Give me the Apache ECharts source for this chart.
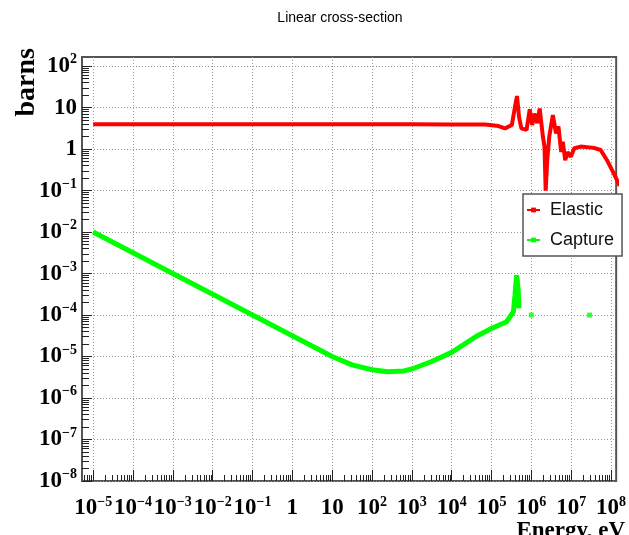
<!DOCTYPE html>
<html>
<head>
<meta charset="utf-8">
<title>Linear cross-section</title>
<script src="https://cdn.jsdelivr.net/npm/echarts@6/dist/echarts.min.js"></script>
<style>
  html, body { margin: 0; padding: 0; background: #fff; }
  #chart { width: 629px; height: 535px; }
</style>
</head>
<body>
<div id="chart"></div>
<script>
// Neutron elastic cross section: energy (eV) and value (barns)
const elasticEnergy = [1e-5, 1e3, 1e4, 6.9e4, 1.5e5, 2.19e5, 3.24e5, 3.89e5, 4.37e5, 4.9e5,
  5.62e5, 7.59e5, 9.12e5, 1.05e6, 1.2e6, 1.41e6, 1.62e6, 1.95e6, 2.14e6, 2.29e6,
  2.51e6, 2.82e6, 3.47e6, 4.17e6, 4.79e6, 5.62e6, 6.17e6, 7.08e6, 8.13e6, 9.77e6,
  1.2e7, 1.74e7, 3.72e7, 5.5e7, 7.94e7, 1.17e8, 1.66e8];
const elasticXs = [3.95, 3.95, 3.9, 3.9, 3.6, 3.16, 3.8, 10.5, 19, 6.0,
  3.16, 2.9, 9.1, 3.8, 7.2, 4.2, 9.5, 2.0, 1.15, 0.10,
  0.54, 2.0, 6.6, 2.4, 3.5, 0.85, 1.5, 0.54, 0.85, 0.65,
  1.05, 1.15, 1.07, 0.95, 0.54, 0.26, 0.13];

// Radiative capture cross section: energy (eV) and value (barns)
const captureEnergy = [1e-5, 1e1, 3.16e1, 1e2, 2.5e2, 6.3e2, 1e3, 3.16e3, 1e4, 4e4,
  1.02e5, 2.4e5, 3.55e5, 3.89e5, 4.27e5, 4.68e5, 4.9e5];
const captureXs = [1.0e-2, 1.0e-5, 6.3e-6, 4.8e-6, 4.3e-6, 4.5e-6, 5.0e-6, 7.6e-6, 1.26e-5, 3.0e-5,
  4.8e-5, 6.9e-5, 1.2e-4, 3.0e-4, 9.1e-4, 4.0e-4, 1.45e-4];
// Separate capture points above the resolved range
const captureDotEnergy = [1.0e6, 2.9e7];
const captureDotXs = [1.0e-4, 1.0e-4];

// Decade exponents used for labels, ticks and grid
const xDecades = [-5, -4, -3, -2, -1, 0, 1, 2, 3, 4, 5, 6, 7, 8];
const yDecades = [-8, -7, -6, -5, -4, -3, -2, -1, 0, 1, 2];

const lg = Math.log10;
const toPairs = (es, vs) => es.map((e, i) => [lg(e), lg(vs[i])]);

// log-spaced minor tick positions (2..9 x 10^n) inside a range of exponents
function minorTicks(lo, hi) {
  const out = [];
  for (let n = Math.floor(lo); n <= Math.ceil(hi); n++) {
    for (let k = 2; k <= 9; k++) {
      const v = n + lg(k);
      if (v > lo && v < hi) out.push(v);
    }
  }
  return out;
}

const X_MIN = -5.28, X_MAX = 8.13;
const Y_MIN = -8, Y_MAX = 2.22;

function powLabel(v) {
  const n = Math.round(v);
  if (Math.abs(v - n) > 1e-6) return '';
  if (n === 0) return '{b|1}';
  if (n === 1) return '{b|10}';
  return '{b|10}{s|' + (n < 0 ? '\u2212' + (-n) : String(n)) + '}';
}

const serif = "'Liberation Serif', 'DejaVu Serif', serif";
const sans = "'Liberation Sans', Arial, sans-serif";

const richLabel = {
  b: { fontFamily: serif, fontWeight: 'bold', fontSize: 23, color: '#000', lineHeight: 27 },
  s: { fontFamily: serif, fontWeight: 'bold', fontSize: 14, color: '#000', lineHeight: 14, verticalAlign: 'top' }
};

const chart = echarts.init(document.getElementById('chart'), null, { renderer: 'canvas' });

const grid = { left: 82, right: 6, top: 57, bottom: 54, show: true, borderColor: '#555', borderWidth: 2, backgroundColor: 'transparent', containLabel: false };

const dotted = { show: true, lineStyle: { color: '#999', type: [1, 2], width: 1 } };
const noLine = { show: false, onZero: false };

chart.setOption({
  animation: false,
  backgroundColor: '#fff',
  grid: grid,
  graphic: [
    { type: 'text', x: 340, y: 11, style: { text: 'Linear cross-section', font: '14px ' + sans, fill: '#000', align: 'center', verticalAlign: 'top' } },
    { type: 'text', x: 27, y: 48, rotation: Math.PI / 2, style: { text: 'barns', font: 'bold 28px ' + serif, fill: '#000', align: 'right', verticalAlign: 'middle' } },
    { type: 'text', x: 625, y: 520, style: { text: 'Energy, eV', font: 'bold 23px ' + serif, fill: '#000', align: 'right', verticalAlign: 'top' } }
  ],
  legend: {
    data: ['Elastic', 'Capture'],
    orient: 'vertical',
    left: 523,
    top: 194,
    padding: [7, 8, 7, 3],
    itemGap: 12,
    itemWidth: 13,
    itemHeight: 6,
    backgroundColor: '#fff',
    borderColor: '#555',
    borderWidth: 1.5,
    textStyle: { fontFamily: sans, fontSize: 18, color: '#111', padding: [0, 0, 0, 5] }
  },
  xAxis: [
    {
      type: 'value', min: X_MIN, max: X_MAX, splitNumber: 13,
      axisLine: noLine,
      axisTick: { show: true, inside: true, length: 11, customValues: xDecades, lineStyle: { color: '#222', width: 1 } },
      axisLabel: { show: true, margin: 14, showMinLabel: true, showMaxLabel: true, hideOverlap: false, customValues: xDecades, formatter: powLabel, rich: richLabel },
      splitLine: dotted
    },
    {
      type: 'value', min: X_MIN, max: X_MAX, gridIndex: 0, position: 'bottom',
      axisLine: noLine,
      axisTick: { show: true, inside: true, length: 6, customValues: minorTicks(X_MIN, X_MAX), lineStyle: { color: '#222', width: 1 } },
      axisLabel: { show: false },
      splitLine: { show: false }
    }
  ],
  yAxis: [
    {
      type: 'value', min: Y_MIN, max: Y_MAX, splitNumber: 10,
      axisLine: noLine,
      axisTick: { show: true, inside: true, length: 10, customValues: yDecades, lineStyle: { color: '#222', width: 1 } },
      axisLabel: { show: true, margin: 5, showMinLabel: true, showMaxLabel: true, customValues: yDecades, formatter: powLabel, rich: richLabel },
      splitLine: dotted
    },
    {
      type: 'value', min: Y_MIN, max: Y_MAX, gridIndex: 0, position: 'left',
      axisLine: noLine,
      axisTick: { show: true, inside: true, length: 7, customValues: minorTicks(Y_MIN, Y_MAX), lineStyle: { color: '#222', width: 1 } },
      axisLabel: { show: false },
      splitLine: { show: false }
    }
  ],
  series: [
    {
      name: 'Elastic', type: 'line', xAxisIndex: 0, yAxisIndex: 0,
      data: toPairs(elasticEnergy, elasticXs),
      symbol: 'rect', symbolSize: 5, showSymbol: false, clip: true,
      itemStyle: { color: '#ff0000' },
      lineStyle: { color: '#ff0000', width: 4 }
    },
    {
      name: 'Capture', type: 'line', xAxisIndex: 0, yAxisIndex: 0,
      data: toPairs(captureEnergy, captureXs),
      symbol: 'rect', symbolSize: 5, showSymbol: false, clip: true,
      itemStyle: { color: '#00ff00' },
      lineStyle: { color: '#00ff00', width: 5 }
    },
    {
      name: 'Capture', type: 'scatter', xAxisIndex: 0, yAxisIndex: 0,
      data: toPairs(captureDotEnergy, captureDotXs),
      symbol: 'rect', symbolSize: 5,
      itemStyle: { color: '#00ff00' }
    }
  ]
});
</script>
</body>
</html>
